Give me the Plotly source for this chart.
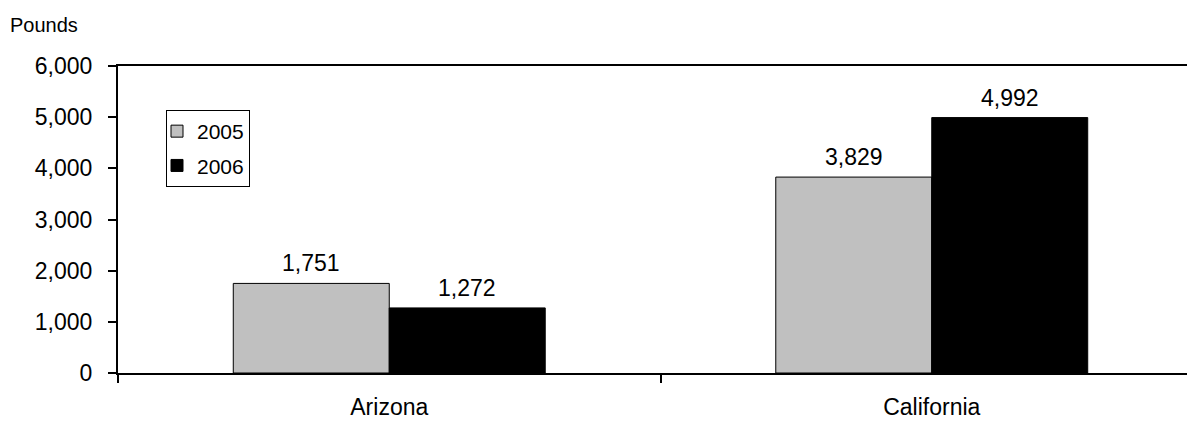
import plotly.graph_objects as go

states = ["Arizona", "California"]
years = ["2005", "2006"]
values_2005 = [1751, 3829]
values_2006 = [1272, 4992]
y_ticks = [0, 1000, 2000, 3000, 4000, 5000, 6000]
y_tick_labels = ["0", "1,000", "2,000", "3,000", "4,000", "5,000", "6,000"]

FONT = "Liberation Sans, Arial, sans-serif"

W, H = 1195, 421
L, T, B, R = 110, 58, 56, 0
plot_w = W - L - R
plot_h = H - T - B
cat_w = plot_w / 2.0
BARGAP = 0.425
bar_w = cat_w * (1 - BARGAP) / 2

fig = go.Figure()
series = [(years[0], values_2005, "#C0C0C0", "a"),
          (years[1], values_2006, "#000000", "b")]
for name, vals, color, grp in series:
    fig.add_trace(go.Bar(
        x=states, y=vals, name=name, legendgroup=grp,
        marker=dict(color=color, line=dict(color="black", width=1)),
        cliponaxis=False,
    ))

annotations = []
for i, (name, vals, color, grp) in enumerate(series):
    shift = (-0.5 + i) * bar_w
    for s, v in zip(states, vals):
        annotations.append(dict(
            x=s, y=v, xref="x", yref="y", text=f"{v:,}",
            xshift=shift, yshift=5, yanchor="bottom", xanchor="center",
            showarrow=False, font=dict(size=23, family=FONT, color="black"),
        ))

annotations.append(dict(
    text="Pounds", xref="paper", yref="paper",
    x=(0 - L) / plot_w, y=1 + (T - 17) / plot_h,
    xanchor="left", yanchor="middle", showarrow=False,
    font=dict(size=20, family=FONT, color="black"),
))

fig.update_layout(
    width=W, height=H,
    margin=dict(l=L, r=R, t=T, b=B, pad=0, autoexpand=False),
    paper_bgcolor="white", plot_bgcolor="white",
    barmode="group", bargap=BARGAP, bargroupgap=0,
    font=dict(family=FONT, size=23, color="black"),
    showlegend=True,
    legend=dict(
        x=(158 - L) / plot_w, y=1 - (102 - T) / plot_h,
        xanchor="left", yanchor="top",
        bordercolor="black", borderwidth=1,
        font=dict(size=21, family=FONT),
        tracegroupgap=4, itemwidth=30, indentation=-10,
    ),
    xaxis=dict(
        type="category",
        range=[-0.5, 1.5],
        showline=True, linecolor="black", linewidth=2, mirror=True,
        ticks="outside", tickson="boundaries", ticklen=8, tickcolor="black", tickwidth=2,
        showgrid=False, zeroline=False,
        tickfont=dict(size=23, family=FONT),
        ticklabelstandoff=12,
        automargin=False,
    ),
    yaxis=dict(
        range=[0, 6000],
        tickvals=y_ticks, ticktext=y_tick_labels,
        showline=True, linecolor="black", linewidth=2,
        ticks="outside", ticklen=8, tickcolor="black", tickwidth=2,
        showgrid=False, zeroline=False,
        tickfont=dict(size=23, family=FONT),
        ticklabelstandoff=11,
        automargin=False,
    ),
    annotations=annotations,
)

fig.write_html("out.html")
